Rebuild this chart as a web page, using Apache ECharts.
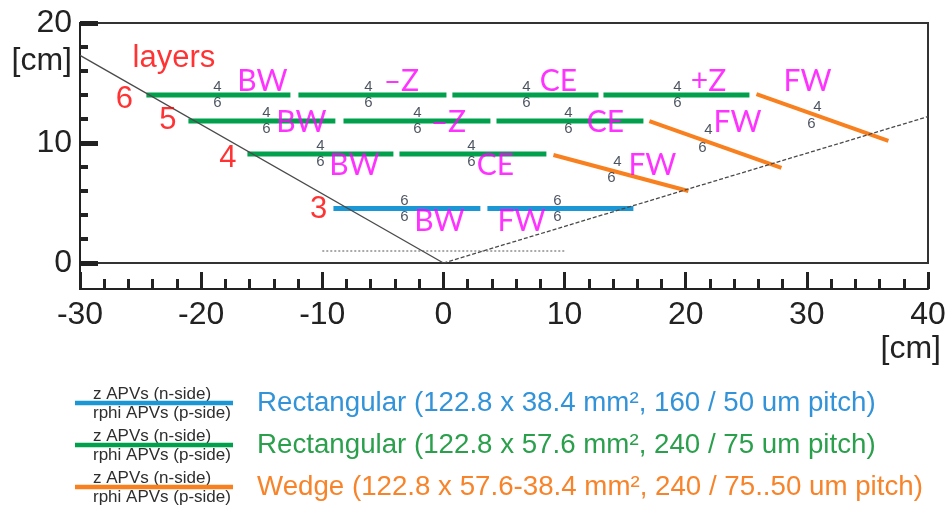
<!DOCTYPE html>
<html><head><meta charset="utf-8">
<script src="https://cdn.jsdelivr.net/npm/echarts@6/dist/echarts.min.js"></script>
<style>html,body{margin:0;padding:0;background:#fff}#c{width:949px;height:511px}</style>
</head><body><div id="c"></div>
<script>
// ---------------- data (z [cm], r [cm]) ----------------
const layerNames = ['3', '4', '5', '6'];
const layerR = [4.54, 9.08, 11.83, 14.0];
// rectangular sensors per layer: [zStart, zEnd]
const layer3Rect = [[-9.08, 3.05], [3.63, 15.68]];
const layer4Rect = [[-16.18, -4.13], [-3.63, 8.5]];
const layer5Rect = [[-21.05, -8.92], [-8.25, 3.88], [4.38, 16.51]];
const layer6Rect = [[-24.52, -12.63], [-11.97, 0.25], [0.74, 12.8], [13.21, 25.26]];
// wedge sensors: [[z0, r0], [z1, r1]]
const layer4Wedge = [[9.08, 9.0], [20.22, 6.0]];
const layer5Wedge = [[17.0, 11.83], [27.9, 7.92]];
const layer6Wedge = [[25.84, 14.08], [36.73, 10.17]];
// acceptance lines and beam pipe
const acceptBackward = [[0, 0], [-30, 17.3]];
const acceptForward = [[0, 0], [40, 12.2]];
const beamLine = [[-10, 1.0], [10, 1.0]];
// APV labels on rectangular sensors: z position, layer index
const apvRectZ = [-3.22, 9.41, -10.15, 2.31, -14.61, -2.15, 10.32, -18.66, -6.19, 6.85, 19.32];
const apvRectLayer = [0, 0, 1, 1, 2, 2, 2, 3, 3, 3, 3];
const apvRectText = ['6\n6', '6\n6', '4\n6', '4\n6', '4\n6', '4\n6', '4\n6', '4\n6', '4\n6', '4\n6', '4\n6'];
// APV labels on wedges
const apvWedgeText = ['4', '6', '4', '6', '4', '6'];
const apvWedgeZ = [14.36, 13.87, 21.88, 21.38, 30.87, 30.38];
const apvWedgeR = [8.42, 7.08, 11.08, 9.58, 13.0, 11.58];
// region labels
const regionText = ['BW', 'FW', 'BW', 'CE', 'FW', 'BW', '–Z', 'CE', 'FW', 'BW', '–Z', 'CE', '+Z', 'FW'];
const regionZ = [-0.33, 6.44, -7.35, 4.29, 17.25, -11.72, 0.41, 13.37, 24.27, -14.94, -3.47, 9.49, 21.88, 30.05];
const regionR = [3.5, 3.5, 8.1, 8.1, 8.1, 11.7, 11.7, 11.7, 11.7, 15.1, 15.1, 15.1, 15.1, 15.1];
// layer numbers
const layerLabelZ = [-10.3, -17.79, -22.74, -26.33];
const layerLabelR = [4.46, 8.71, 11.92, 13.67];
const titleText = 'layers';
const titlePos = [-22.25, 17.08];
// legend
const legendColors = ['#1b97d5', '#00a04d', '#f9801f'];
const legendTextColors = ['#3293d8', '#2a9f4c', '#f7842a'];
const legendTexts = [
  'Rectangular (122.8 x 38.4 mm², 160 / 50 um pitch)',
  'Rectangular (122.8 x 57.6 mm², 240 / 75 um pitch)',
  'Wedge (122.8 x 57.6-38.4 mm², 240 / 75..50 um pitch)'
];
const legendSub = ['z APVs (n-side)', 'rphi APVs (p-side)'];

// ---------------- chart ----------------
const FONT = '"Liberation Sans", Arial, sans-serif';
const FONT_PPT = 'Lato, "Liberation Sans", sans-serif';
const BLUE = legendColors[0], GREEN = legendColors[1], ORANGE = legendColors[2];
const AX = '#222';

const series = [];
function seg(data, color, width, z) {
  series.push({
    type: 'line', data: data, symbol: 'none', silent: true, z: z || 2,
    lineStyle: { color: color, width: width, cap: 'butt' }, animation: false
  });
}
[layer4Rect, layer5Rect, layer6Rect].forEach((segs, i) => {
  segs.forEach(s => seg([[s[0], layerR[i + 1]], [s[1], layerR[i + 1]]], GREEN, 5));
});
layer3Rect.forEach(s => seg([[s[0], layerR[0]], [s[1], layerR[0]]], BLUE, 5));
[layer4Wedge, layer5Wedge, layer6Wedge].forEach(w => seg(w, ORANGE, 4));

series.push({ type: 'line', data: acceptBackward, symbol: 'none', silent: true, z: 5, animation: false,
  lineStyle: { color: '#4a4a4a', width: 1.3 } });
series.push({ type: 'line', data: acceptForward, symbol: 'none', silent: true, z: 5, animation: false,
  lineStyle: { color: '#4a4a4a', width: 1.3, type: [4, 2] } });
series.push({ type: 'line', data: beamLine, symbol: 'none', silent: true, z: 5, animation: false,
  lineStyle: { color: '#555', width: 1, type: [2, 2] } });

function textSeries(items, labelOpts) {
  series.push({
    type: 'scatter', data: items, symbolSize: 1, silent: true, z: 10, animation: false,
    itemStyle: { color: 'rgba(0,0,0,0)' },
    label: Object.assign({ show: true, position: 'inside', formatter: '{b}' }, labelOpts)
  });
}
textSeries(apvRectZ.map((z, i) => ({ name: apvRectText[i], value: [z, layerR[apvRectLayer[i]]] })),
  { fontSize: 15, lineHeight: 16, color: '#1e2838', fontFamily: FONT });
textSeries(apvWedgeZ.map((z, i) => ({ name: apvWedgeText[i], value: [z, apvWedgeR[i]] })),
  { fontSize: 15, color: '#1e2838', fontFamily: FONT });
textSeries(regionZ.map((z, i) => ({ name: regionText[i], value: [z, regionR[i]] })),
  { fontSize: 30, color: '#ff00ff', fontFamily: FONT_PPT });
textSeries(layerLabelZ.map((z, i) => ({ name: layerNames[i], value: [z, layerLabelR[i]] })),
  { fontSize: 31, color: '#ff0000', fontFamily: FONT });
textSeries([{ name: titleText, value: titlePos }],
  { fontSize: 31, color: '#ff0000', fontFamily: FONT });

const chart = echarts.init(document.getElementById('c'), null, { renderer: 'canvas' });
chart.setOption({
  animation: false,
  backgroundColor: '#fff',
  grid: { left: 80, right: 21, top: 23, bottom: 248, show: true, borderColor: '#333', borderWidth: 2,
    containLabel: false, outerBoundsMode: 'none' },
  xAxis: {
    type: 'value', min: -30, max: 40, interval: 10, offset: 26, position: 'bottom',
    axisLine: { show: true, onZero: false, lineStyle: { color: AX, width: 2 } },
    axisTick: { show: true, inside: true, length: 17, lineStyle: { color: AX, width: 3 } },
    minorTick: { show: true, splitNumber: 5, length: 10, lineStyle: { color: AX, width: 3 } },
    axisLabel: { fontSize: 32, color: AX, margin: 10, fontFamily: FONT },
    splitLine: { show: false }
  },
  yAxis: {
    type: 'value', min: 0, max: 20, interval: 10, position: 'left',
    axisLine: { show: true, onZero: false, lineStyle: { color: AX, width: 2 } },
    axisTick: { show: true, inside: true, length: 18, lineStyle: { color: AX, width: 5 } },
    minorTick: { show: true, splitNumber: 5, length: 8, lineStyle: { color: AX, width: 4 } },
    axisLabel: { fontSize: 32, color: AX, margin: 8, fontFamily: FONT },
    splitLine: { show: false }
  },
  series: series
});

// decorations: left axis extension, axis units, legend
const p0 = chart.convertToPixel({ gridIndex: 0 }, [-30, 0]);
const pTop = chart.convertToPixel({ gridIndex: 0 }, [-30, 20]);
const pEnd = chart.convertToPixel({ gridIndex: 0 }, [40, 0]);
const g = [];
g.push({ type: 'line', shape: { x1: p0[0], y1: p0[1], x2: p0[0], y2: p0[1] + 27 }, style: { stroke: AX, lineWidth: 2 } });
g.push({ type: 'text', x: p0[0] - 8, y: pTop[1] + 38, style: { text: '[cm]', fontSize: 32, fontFamily: FONT, fill: AX, align: 'right', verticalAlign: 'middle' } });
g.push({ type: 'text', x: pEnd[0] + 13, y: p0[1] + 86, style: { text: '[cm]', fontSize: 32, fontFamily: FONT, fill: AX, align: 'right', verticalAlign: 'middle' } });
const legY = [403, 445, 487];
legendTexts.forEach((t, i) => {
  const y = legY[i];
  g.push({ type: 'text', x: 93, y: y - 9, style: { text: legendSub[0], fontSize: 17, fontFamily: FONT, fill: '#2e2e2e', align: 'left', verticalAlign: 'middle' } });
  g.push({ type: 'text', x: 93, y: y + 10, style: { text: legendSub[1], fontSize: 17, fontFamily: FONT, fill: '#2e2e2e', align: 'left', verticalAlign: 'middle' } });
  g.push({ type: 'line', shape: { x1: 75, y1: y, x2: 233, y2: y }, style: { stroke: legendColors[i], lineWidth: 4.5 } });
  g.push({ type: 'text', x: 257, y: y, style: { text: t, fontSize: 27.7, fontFamily: FONT, fill: legendTextColors[i], align: 'left', verticalAlign: 'middle' } });
});
chart.setOption({ graphic: g });
</script>
</body></html>
